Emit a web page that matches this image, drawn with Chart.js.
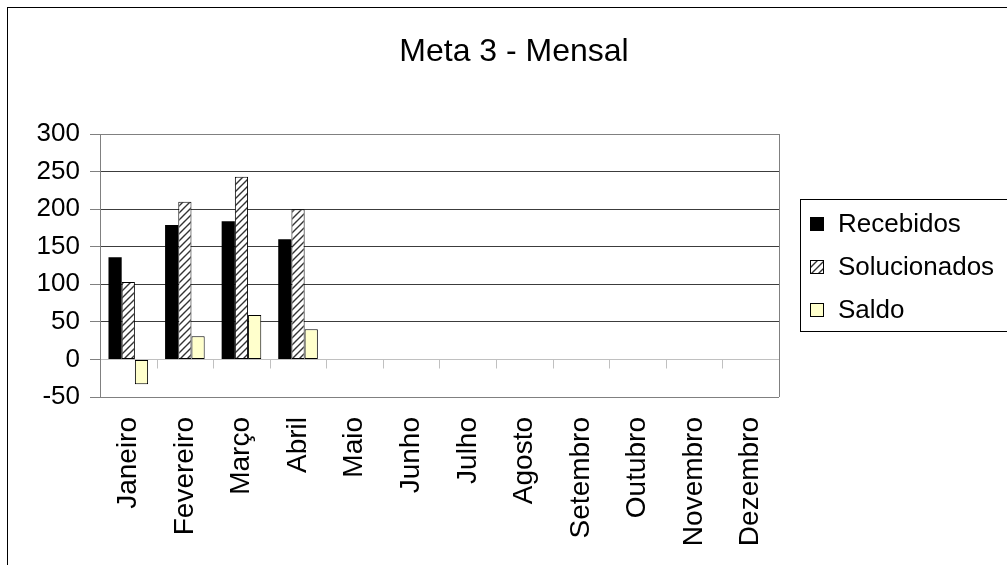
<!DOCTYPE html>
<html>
<head>
<meta charset="utf-8">
<title>Meta 3 - Mensal</title>
<script src="https://cdn.jsdelivr.net/npm/chart.js@4.4.1/dist/chart.umd.min.js"></script>
<style>
    html, body { margin: 0; padding: 0; background: #fff; overflow: hidden; }
    #wrap { width: 1007px; height: 565px; }
</style>
</head>
<body>
<div id="wrap"><canvas id="meta-chart"></canvas></div>
<script>
// --- Dados ---
const meses = ["Janeiro", "Fevereiro", "Março", "Abril", "Maio", "Junho",
    "Julho", "Agosto", "Setembro", "Outubro", "Novembro", "Dezembro"];
const recebidos = [136, 179, 184, 160];
const solucionados = [103, 210, 243, 200];
const saldo = [-33, 31, 59, 40];
const yTicks = [-50, 0, 50, 100, 150, 200, 250, 300];
const titulo = "Meta 3 - Mensal";

const FONTE = "'Liberation Sans', Arial, sans-serif";

// hachura diagonal das barras "Solucionados"
function criarHachura() {
    const tile = document.createElement("canvas");
    tile.width = 7;
    tile.height = 7;
    const c = tile.getContext("2d");
    c.fillStyle = "#fff";
    c.fillRect(0, 0, 7, 7);
    c.strokeStyle = "#333";
    c.lineWidth = 1.4;
    c.beginPath();
    c.moveTo(-1, 8); c.lineTo(8, -1);
    c.moveTo(-1, 1); c.lineTo(1, -1);
    c.moveTo(6, 8); c.lineTo(8, 6);
    c.stroke();
    return c.createPattern(tile, "repeat");
}

const hachura = criarHachura();

// --- Moldura, eixo zero, título e legenda ---
const molduraPlugin = {
    id: "moldura",
    beforeDatasetsDraw(chart) {
        const { ctx, chartArea, scales } = chart;
        const x = scales.x;
        const y0 = Math.round(scales.y.getPixelForValue(0)) + 0.5;
        const w = x.getPixelForValue(1) - x.getPixelForValue(0);
        ctx.save();
        // borda direita da área de plotagem
        ctx.strokeStyle = "#808080";
        ctx.lineWidth = 1;
        ctx.beginPath();
        ctx.moveTo(Math.round(chartArea.right) + 0.5, chartArea.top);
        ctx.lineTo(Math.round(chartArea.right) + 0.5, chartArea.bottom);
        ctx.stroke();
        // marcas do eixo das categorias na linha do zero
        ctx.strokeStyle = "#c0c0c0";
        ctx.beginPath();
        for (let i = 1; i < meses.length; i++) {
            const bx = Math.round(x.getPixelForValue(i) - w / 2) + 0.5;
            ctx.moveTo(bx, y0);
            ctx.lineTo(bx, y0 + 9);
        }
        ctx.stroke();
        ctx.restore();
    },
    afterDraw(chart) {
        const { ctx } = chart;
        ctx.save();
        // borda externa do gráfico
        ctx.strokeStyle = "#000";
        ctx.lineWidth = 1;
        ctx.strokeRect(7.5, 7.5, 1100, 600);

        // título
        ctx.fillStyle = "#000";
        ctx.font = "32px " + FONTE;
        ctx.textAlign = "center";
        ctx.textBaseline = "middle";
        ctx.fillText(titulo, 514, 52);

        // legenda
        ctx.strokeRect(800.5, 199.5, 300, 132);
        ctx.font = "26px " + FONTE;
        ctx.textAlign = "left";
        chart.data.datasets.forEach((ds, i) => {
            const cy = 224 + i * 43;
            ctx.fillStyle = ds.backgroundColor;
            ctx.fillRect(810, cy - 7, 14, 14);
            ctx.strokeStyle = "#000";
            ctx.strokeRect(810.5, cy - 6.5, 13, 13);
            ctx.fillStyle = "#000";
            ctx.fillText(ds.label, 838, cy + 1);
        });
        ctx.restore();
    }
};

// --- Gráfico ---
const canvas = document.getElementById("meta-chart");

const metaChart = new Chart(canvas, {
    type: "bar",
    data: {
        labels: meses,
        datasets: [
            {
                label: "Recebidos",
                data: recebidos,
                backgroundColor: "#000000",
                borderWidth: 0
            },
            {
                label: "Solucionados",
                data: solucionados,
                backgroundColor: hachura,
                borderColor: "#000000",
                borderWidth: 1,
                borderSkipped: false
            },
            {
                label: "Saldo",
                data: saldo,
                backgroundColor: "#ffffcc",
                borderColor: "#000000",
                borderWidth: 1,
                borderSkipped: false
            }
        ]
    },
    options: {
        responsive: true,
        maintainAspectRatio: false,
        animation: false,
        layout: {
            padding: { top: 134, right: 228, left: 0, bottom: 0 }
        },
        datasets: {
            bar: { categoryPercentage: 0.7, barPercentage: 1 }
        },
        plugins: {
            legend: { display: false },
            tooltip: { enabled: false }
        },
        scales: {
            x: {
                offset: true,
                grid: { display: false, drawTicks: false },
                border: { display: false },
                ticks: {
                    color: "#000",
                    font: { family: FONTE, size: 28 },
                    minRotation: 90,
                    maxRotation: 90,
                    padding: 20,
                    autoSkip: false
                },
                afterFit: (scale) => { scale.height = 168; }
            },
            y: {
                min: yTicks[0],
                max: yTicks[yTicks.length - 1],
                afterBuildTicks: (scale) => {
                    scale.ticks = yTicks.map(v => ({ value: v }));
                },
                ticks: {
                    color: "#000",
                    font: { family: FONTE, size: 26 },
                    padding: 10
                },
                grid: {
                    color: (ctx) => {
                        const v = ctx.tick ? ctx.tick.value : null;
                        if (v === 0) return "#c0c0c0";
                        if (v === yTicks[0] || v === yTicks[yTicks.length - 1]) return "#808080";
                        return "#3c3c3c";
                    },
                    tickColor: "#808080",
                    tickLength: 10,
                    lineWidth: 1
                },
                border: { color: "#808080" },
                afterFit: (scale) => { scale.width = 100; }
            }
        }
    },
    plugins: [molduraPlugin]
});
</script>
</body>
</html>
